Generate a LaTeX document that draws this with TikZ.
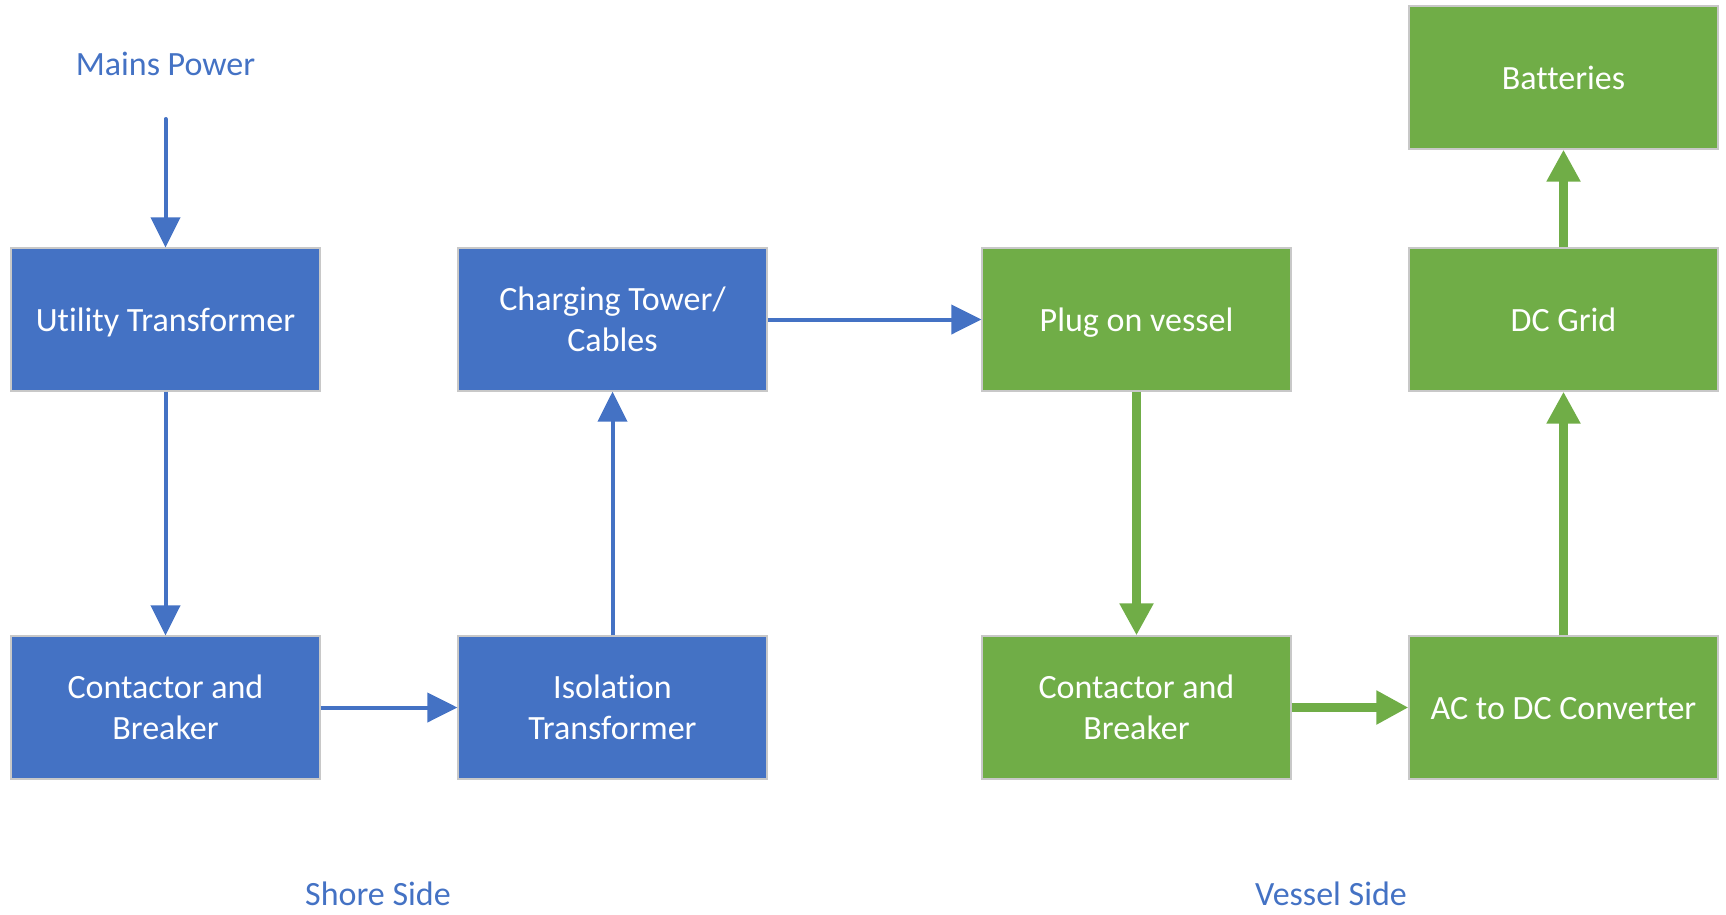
\documentclass[tikz,border=0pt]{standalone}
\usepackage{fontspec}
\setmainfont[Ligatures={NoCommon,NoContextual}]{Carlito}
\usetikzlibrary{arrows.meta}
\definecolor{shoreblue}{HTML}{4472C4}
\definecolor{vesselgreen}{HTML}{70AD47}
\definecolor{edgegray}{HTML}{C8C8C8}
\begin{document}
\begin{tikzpicture}[x=1pt,y=-1pt,
  block/.style={rectangle, draw=edgegray, line width=1.2pt, minimum width=309pt,
    minimum height=143pt, inner sep=0pt, text=white, align=center,
    font=\fontsize{34}{41.5}\selectfont},
  oneline/.style={text height=29pt, text depth=6pt},
  shore/.style={block, fill=shoreblue},
  vessel/.style={block, fill=vesselgreen},
  caption/.style={text=shoreblue, font=\fontsize{34}{41.5}\selectfont},
  shoreflow/.style={draw=shoreblue, line width=4pt, -{Triangle[length=30pt,width=29pt]}},
  vesselflow/.style={draw=vesselgreen, line width=8.5pt, -{Triangle[length=32pt,width=32pt]}}
]
\useasboundingbox (0,0) rectangle (1726,914);

% shore side
\node[caption] (mains) at (165.5,64) {Mains Power};
\coordinate (feed) at (165.5,119);
\node[shore, oneline] (utility) at (165.5,319.5) {Utility Transformer};
\node[shore] (shorecb) at (165.5,707.5) {Contactor and\\Breaker};
\node[shore] (isolation) at (612.5,707.5) {Isolation\\Transformer};
\node[shore] (tower) at (612.5,319.5) {Charging Tower/\\Cables};

% vessel side
\node[vessel, oneline] (plug) at (1136.5,319.5) {Plug on vessel};
\node[vessel] (vesselcb) at (1136.5,707.5) {Contactor and\\Breaker};
\node[vessel, oneline] (acdc) at (1563.5,707.5) {AC to DC Converter};
\node[vessel, oneline] (dcgrid) at (1563.5,319.5) {DC Grid};
\node[vessel, oneline] (batteries) at (1563.5,77.5) {Batteries};

% side captions
\node[caption] (shorelabel) at (378,894) {Shore Side};
\node[caption] (vessellabel) at (1331,894) {Vessel Side};

% power flow
\draw[shoreflow, line cap=round] (feed) -- (utility.north);
\draw[shoreflow] (utility.south) -- (shorecb.north);
\draw[shoreflow] (shorecb.east) -- (isolation.west);
\draw[shoreflow] (isolation.north) -- (tower.south);
\draw[shoreflow] (tower.east) -- (plug.west);
\draw[vesselflow] (plug.south) -- (vesselcb.north);
\draw[vesselflow] (vesselcb.east) -- (acdc.west);
\draw[vesselflow] (acdc.north) -- (dcgrid.south);
\draw[vesselflow] (dcgrid.north) -- (batteries.south);
\end{tikzpicture}
\end{document}
